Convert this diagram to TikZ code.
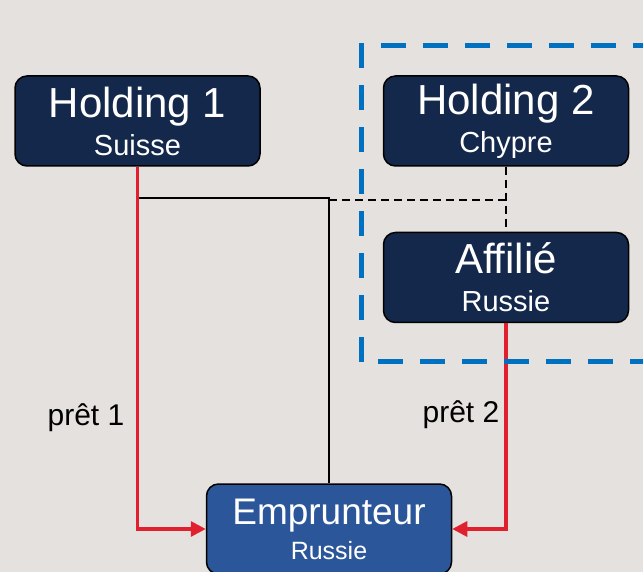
\documentclass[tikz,border=0pt]{standalone}
\usepackage{fontspec}
\setmainfont{Liberation Sans}
\usepackage{xcolor}
\usetikzlibrary{arrows.meta, positioning}
\definecolor{bggray}{HTML}{E4E1DE}
\definecolor{navy}{HTML}{14284B}
\definecolor{midblue}{HTML}{2B579A}
\definecolor{framblue}{HTML}{0070C0}
\definecolor{loanred}{HTML}{E0202E}
\newcommand{\ttl}[1]{{\fontsize{21}{19}\selectfont #1}}
\newcommand{\sub}[1]{{\fontsize{14.5}{19}\selectfont #1}}

\begin{document}
\begin{tikzpicture}[
    x=0.5pt, y=-0.5pt,
    entity/.style={draw=black, line width=0.75pt, rounded corners=6pt, fill=navy,
                   text=white, align=center, minimum width=122.5pt, minimum height=45pt, inner sep=0pt,
                   font=\fontsize{14.5}{19}\selectfont},
    link/.style={black, line width=0.75pt},
    ctrl/.style={black, line width=0.75pt, dash pattern=on 4pt off 2.5pt},
    loan/.style={loanred, line width=1.6pt, -{Triangle[length=7.5pt, width=7.5pt]}},
    lbl/.style={font=\fontsize{15}{18}\selectfont}]
  \useasboundingbox (0,0) rectangle (643,572);
  \clip (0,0) rectangle (643,572);
  \fill[bggray] (0,0) rectangle (643,572);

  \node[entity] (h1) at (137.5,121) {\ttl{Holding 1}\\ \sub{Suisse}};
  \node[entity, right=61pt of h1] (h2) {\ttl{Holding 2}\\ \sub{Chypre}};
  \node[entity, below=32.5pt of h2] (aff) {\ttl{Affilié}\\ \sub{Russie}};
  \node[entity, fill=midblue, font=\fontsize{12.5}{17.5}\selectfont] (emp) at (329,529)
      {{\fontsize{18.5}{17.5}\selectfont Emprunteur}\\ Russie};

  \node[lbl] (l1) at (86,418) {prêt 1};
  \node[lbl] (l2) at (461,415) {prêt 2};

  % ownership lines
  \coordinate (j1) at (137.5,198);
  \coordinate (j2) at (329,200);
  \coordinate (j3) at (504.5,200);
  \draw[link] (h1.south) -- (j1) -| (emp.north);
  \draw[ctrl] (h2.south) -- (aff.north);
  \draw[ctrl] (j2) -- (j3);

  % loans
  \draw[loan] (h1.south) |- (emp.west);
  \draw[loan] (aff.south) |- (emp.east);

  % group frame
  \draw[framblue, line width=2.5pt, dash pattern=on 12.5pt off 8.5pt]
    (700,46) -- (361,46) -- (361,362) -- (700,362);
\end{tikzpicture}
\end{document}
